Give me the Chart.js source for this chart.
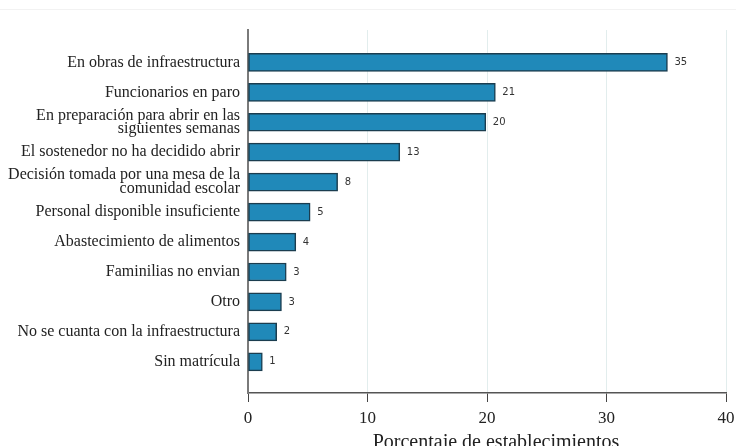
<!DOCTYPE html>
<html>
<head>
<meta charset="utf-8">
<script src="https://cdn.jsdelivr.net/npm/chart.js@4"></script>
<style>
    html, body { margin: 0; padding: 0; background: #fff; }
    #wrap { position: relative; width: 736px; height: 446px; }
    #topline { position: absolute; left: 0; right: 0; top: 9px; height: 1px; background: #f2f2f2; }
</style>
</head>
<body>
<div id="wrap">
    <div id="topline"></div>
    <canvas id="bars" width="736" height="446"></canvas>
</div>
<script>
// --- DATA ---
const categories = [
    'En obras de infraestructura',
    'Funcionarios en paro',
    ['En preparación para abrir en las', 'siguientes semanas'],
    'El sostenedor no ha decidido abrir',
    ['Decisión tomada por una mesa de la', 'comunidad escolar'],
    'Personal disponible insuficiente',
    'Abastecimiento de alimentos',
    'Faminilias no envian',
    'Otro',
    'No se cuanta con la infraestructura',
    'Sin matrícula'
];
const values = [35.1, 20.7, 19.9, 12.7, 7.5, 5.2, 4.0, 3.2, 2.8, 2.4, 1.2];
const valueLabels = ['35', '21', '20', '13', '8', '5', '4', '3', '3', '2', '1'];
const xTicks = [0, 10, 20, 30, 40];
const xTitle = 'Porcentaje de establecimientos';

const serif = '"Liberation Serif", "Times New Roman", serif';

// value labels to the right of each bar, plus the x-axis title (sits off-centre in the original)
const barLabels = {
    id: 'barLabels',
    afterDatasetsDraw(chart) {
        const ctx = chart.ctx;
        const meta = chart.getDatasetMeta(0);
        ctx.save();
        ctx.font = '10px "DejaVu Sans", sans-serif';
        ctx.fillStyle = '#333';
        ctx.textAlign = 'left';
        ctx.textBaseline = 'middle';
        meta.data.forEach((bar, i) => {
            ctx.fillText(valueLabels[i], bar.x + 7, bar.y);
        });

        ctx.font = '20px ' + serif;
        ctx.fillStyle = '#222';
        ctx.textAlign = 'center';
        ctx.textBaseline = 'alphabetic';
        ctx.fillText(xTitle, 496, 448);
        ctx.restore();
    }
};

new Chart(document.getElementById('bars'), {
    type: 'bar',
    data: {
        datasets: [{
            data: values.map((v, i) => ({ x: v, y: i })),
            backgroundColor: '#2089b9',
            borderColor: '#1b3d4f',
            borderWidth: 1.5,
            borderSkipped: false,
            barThickness: 18
        }]
    },
    options: {
        indexAxis: 'y',
        responsive: false,
        animation: false,
        layout: { padding: { top: 30, right: 10, bottom: 0, left: 0 } },
        plugins: {
            legend: { display: false },
            tooltip: { enabled: false }
        },
        scales: {
            x: {
                type: 'linear',
                min: 0,
                max: 40,
                afterBuildTicks: (scale) => { scale.ticks = xTicks.map(v => ({ value: v })); },
                afterFit: (scale) => { scale.height = 53; scale.paddingLeft = 0; scale.paddingRight = 0; },
                grid: {
                    color: (c) => c.index === 0 ? 'rgba(0,0,0,0)' : '#e2eded',
                    lineWidth: 1,
                    tickColor: '#444',
                    tickLength: 9
                },
                border: { color: '#555', width: 1.5 },
                ticks: {
                    color: '#222',
                    padding: 6,
                    maxRotation: 0,
                    font: { family: serif, size: 17 }
                }
            },
            y: {
                type: 'linear',
                reverse: true,
                offset: false,
                min: -1.08,
                max: 11.04,
                afterBuildTicks: (scale) => { scale.ticks = categories.map((c, i) => ({ value: i })); },
                afterFit: (scale) => { scale.width = 248; scale.paddingTop = 0; scale.paddingBottom = 0; },
                grid: { display: false, drawTicks: false },
                border: { color: '#7a7a7a', width: 2 },
                ticks: {
                    color: '#222',
                    padding: 8,
                    autoSkip: false,
                    font: { family: serif, size: 16, lineHeight: 0.86 },
                    callback: (value) => categories[value]
                }
            }
        }
    },
    plugins: [barLabels]
});
</script>
</body>
</html>
